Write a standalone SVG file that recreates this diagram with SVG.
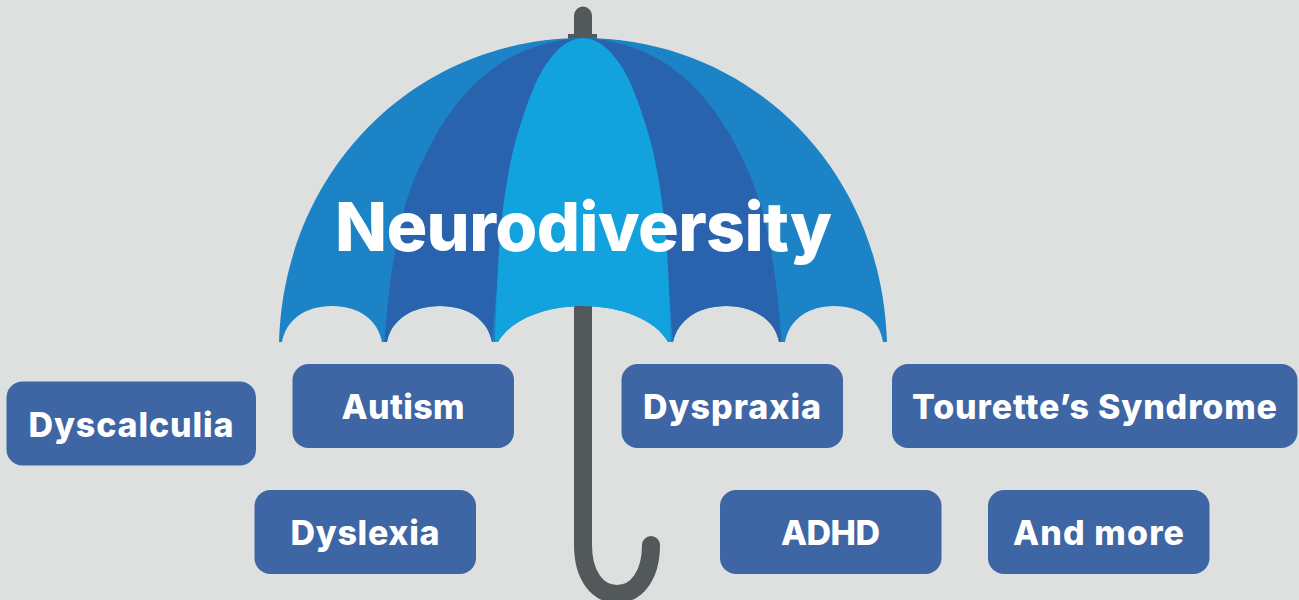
<svg xmlns="http://www.w3.org/2000/svg" width="1299" height="600" viewBox="0 0 1299 600">
<style>
.box{fill:#3e65a4}
.t{font-family:"Inter","Lato",sans-serif;font-weight:800;fill:#fff;text-anchor:middle}
.l{font-size:34px}
</style>
<rect width="1299" height="600" fill="#dee0df"/>
<g id="umbrella">
<path d="M583 15.500V60M583 300V545C583 575 597 594 617 594C637 594 651 575 651 545" fill="none" stroke="#53585a" stroke-width="18" stroke-linecap="round"/>
<rect x="568" y="34" width="29" height="6" fill="#53585a"/>
<path d="M583 38C415 38 284 170 279 342H282C286 320 305 306 332 306C359 306 378 320 382 342H387C391 320 412 306 440 306C468 306 488 320 492 342H498C510 320 545 306 583 306C621 306 656 320 668 342H673C678 320 698 306 726 306C754 306 775 320 779 342H785C789 320 808 306 834 306C861 306 880 320 883 342H887C882 170 751 38 583 38Z" fill="#1c84c6"/>
<path d="M583 38C500 42 460 95 437 133C422 160 410 185 402 217C395 245 388 290 384.500 342H387C391 320 412 306 440 306C468 306 488 320 492 342L500 250H666L673 342C678 320 698 306 726 306C754 306 775 320 779 342H781.500C778 290 771 245 764 217C756 185 744 160 729 133C706 95 666 42 583 38Z" fill="#2963ae"/>
<path d="M583 38C570 38 558 47 547 63C538 75 530 95 523 117C513 145 507 175 502 217C498 250 497 290 495 342H498C510 320 545 306 583 306C621 306 656 320 668 342H671C669 290 668 250 664 217C659 175 653 145 643 117C636 95 628 75 619 63C608 47 596 38 583 38Z" fill="#12a2de"/>
</g>
<text class="t" id="title" x="583.500" y="251" font-size="68" textLength="497" lengthAdjust="spacing">Neurodiversity</text>
<g id="dyscalculia"><rect class="box" x="6.500" y="381.500" width="249.500" height="84" rx="16"/><text class="t l" x="131" y="437" textLength="205" lengthAdjust="spacing">Dyscalculia</text></g>
<g id="autism"><rect class="box" x="292.500" y="364" width="221.500" height="84" rx="16"/><text class="t l" x="403" y="419" textLength="123" lengthAdjust="spacing">Autism</text></g>
<g id="dyspraxia"><rect class="box" x="621.500" y="364" width="221.500" height="84" rx="16"/><text class="t l" x="732" y="419" textLength="178" lengthAdjust="spacing">Dyspraxia</text></g>
<g id="tourette"><rect class="box" x="892" y="364" width="405.500" height="84" rx="16"/><text class="t l" x="1094.500" y="419" textLength="365" lengthAdjust="spacing">Tourette’s Syndrome</text></g>
<g id="dyslexia"><rect class="box" x="254.500" y="490" width="221.500" height="84" rx="16"/><text class="t l" x="365" y="545" textLength="149" lengthAdjust="spacing">Dyslexia</text></g>
<g id="adhd"><rect class="box" x="720" y="490" width="221.500" height="84" rx="16"/><text class="t l" x="830.500" y="545" textLength="99" lengthAdjust="spacing">ADHD</text></g>
<g id="more"><rect class="box" x="988" y="490" width="221.500" height="84" rx="16"/><text class="t l" x="1098.500" y="545" textLength="171" lengthAdjust="spacing">And more</text></g>
<g id="connectors"/>
</svg>
